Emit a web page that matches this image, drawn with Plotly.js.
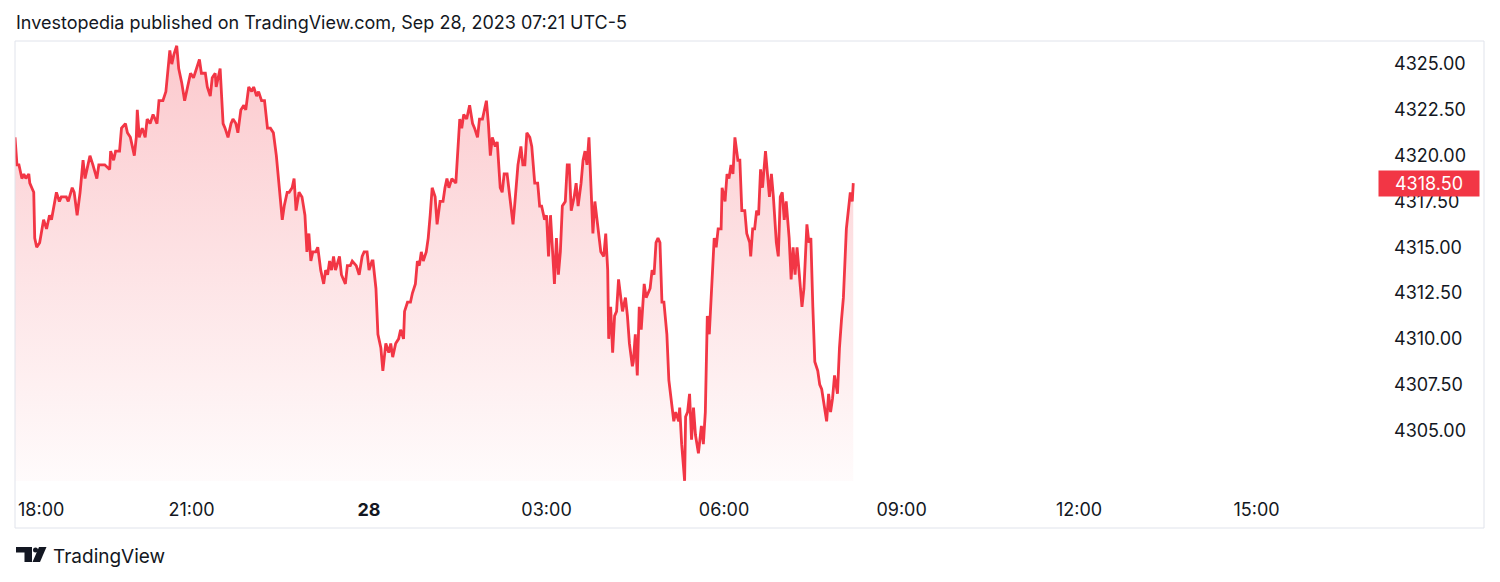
<!DOCTYPE html>
<html>
<head>
<meta charset="utf-8">
<script src="https://cdn.plot.ly/plotly-3.0.1.min.js"></script>
<style>
  html, body { margin: 0; padding: 0; background: #ffffff; }
  #chart { width: 1500px; height: 582px; }
</style>
</head>
<body>
<div id="chart"></div>
<script>
// ---- Data (ES futures, area chart) ----
const times = [
  '18:01','18:03','18:05','18:08','18:10','18:12','18:15','18:16','18:18','18:20',
  '18:21','18:23','18:26','18:28','18:30','18:33','18:36','18:38','18:41','18:43',
  '18:46','18:48','18:53','18:55','18:59','19:01','19:04','19:07','19:10','19:12',
  '19:14','19:17','19:20','19:24','19:26','19:32','19:37','19:38','19:41','19:43',
  '19:47','19:49','19:53','19:55','19:58','20:02','20:04','20:05','20:07','20:10',
  '20:13','20:15','20:18','20:21','20:23','20:25','20:27','20:31','20:34','20:36',
  '20:38','20:40','20:42','20:45','20:47','20:50','20:53','20:56','20:59','21:02',
  '21:05','21:08','21:10','21:14','21:16','21:19','21:21','21:24','21:25','21:29',
  '21:32','21:34','21:37','21:40','21:42','21:45','21:47','21:50','21:53','21:55',
  '21:58','22:01','22:03','22:06','22:08','22:11','22:14','22:17','22:20','22:23',
  '22:26','22:28','22:30','22:32','22:34','22:37','22:39','22:42','22:44','22:46',
  '22:49','22:52','22:55','22:57','22:59','23:01','23:03','23:06','23:08','23:11',
  '23:14','23:16','23:18','23:20','23:22','23:24','23:26','23:30','23:32','23:36',
  '23:38','23:41','23:43','23:47','23:50','23:53','23:55','23:58','00:00','00:03',
  '00:04','00:07','00:09','00:12','00:14','00:17','00:20','00:22','00:24','00:27',
  '00:30','00:32','00:35','00:36','00:39','00:42','00:44','00:47','00:49','00:51',
  '00:53','00:55','00:58','01:00','01:02','01:04','01:07','01:09','01:12','01:15',
  '01:17','01:19','01:21','01:24','01:28','01:31','01:32','01:34','01:36','01:39',
  '01:42','01:45','01:47','01:50','01:52','01:55','01:59','02:01','02:03','02:05',
  '02:08','02:10','02:13','02:15','02:17','02:20','02:23','02:26','02:28','02:31',
  '02:34','02:36','02:38','02:40','02:43','02:45','02:48','02:51','02:53','02:55',
  '02:58','03:00','03:02','03:04','03:08','03:10','03:12','03:14','03:16','03:19',
  '03:21','03:23','03:25','03:28','03:30','03:32','03:35','03:37','03:39','03:41',
  '03:43','03:45','03:47','03:49','03:51','03:53','03:55','03:58','04:00','04:02',
  '04:03','04:05','04:07','04:09','04:11','04:13','04:15','04:17','04:20','04:22',
  '04:24','04:27','04:28','04:30','04:32','04:34','04:36','04:39','04:41','04:45',
  '04:47','04:49','04:51','04:53','04:55','04:57','04:59','05:02','05:04','05:07',
  '05:09','05:11','05:14','05:15','05:17','05:20','05:21','05:23','05:25','05:27',
  '05:29','05:31','05:34','05:37','05:39','05:41','05:43','05:45','05:48','05:50',
  '05:52','05:54','05:57','05:58','06:01','06:03','06:05','06:07','06:09','06:11',
  '06:14','06:16','06:18','06:21','06:23','06:26','06:27','06:29','06:31','06:33',
  '06:35','06:37','06:39','06:42','06:44','06:46','06:48','06:50','06:53','06:55',
  '06:57','06:59','07:01','07:03','07:06','07:08','07:10','07:12','07:14','07:16',
  '07:19','07:21','07:24','07:26','07:28','07:30','07:32','07:35','07:37','07:39',
  '07:42','07:44','07:46','07:48','07:50','07:52','07:55','07:57','07:59','08:01',
  '08:04','08:06','08:08','08:10','08:11'
];
const prices = [
  4321.0,4319.5,4319.5,4318.75,4319.0,4318.75,4319.0,4318.5,4318.25,4318.0,
  4315.5,4315.0,4315.25,4316.0,4316.5,4316.0,4316.75,4316.5,4317.5,4318.0,
  4317.5,4317.75,4317.75,4317.5,4318.25,4318.0,4316.75,4318.0,4319.75,4318.75,
  4319.25,4320.0,4319.5,4318.75,4319.5,4319.5,4319.25,4320.25,4319.75,4320.25,
  4320.25,4321.5,4321.75,4321.25,4321.0,4320.0,4321.0,4322.5,4321.0,4321.5,
  4321.0,4322.0,4321.75,4322.25,4322.0,4321.75,4323.0,4323.0,4323.5,4324.75,
  4325.75,4325.0,4325.5,4326.0,4324.75,4324.0,4323.0,4323.75,4324.5,4324.25,
  4324.75,4325.25,4324.5,4324.5,4323.75,4323.25,4324.25,4324.5,4323.75,4324.75,
  4321.75,4321.5,4321.0,4321.75,4322.0,4321.75,4321.25,4322.5,4322.75,4322.5,
  4323.75,4323.5,4323.75,4323.25,4323.5,4323.0,4323.0,4321.5,4321.5,4321.25,
  4320.0,4318.75,4317.5,4316.5,4317.25,4318.0,4318.0,4318.25,4318.75,4317.0,
  4318.0,4317.75,4316.75,4314.75,4315.75,4314.25,4314.75,4314.75,4315.0,4313.75,
  4313.0,4313.75,4313.5,4314.25,4313.75,4314.5,4313.75,4314.5,4313.5,4313.0,
  4314.0,4314.0,4314.25,4314.0,4313.5,4314.5,4314.75,4314.75,4313.75,4314.25,
  4314.25,4312.75,4310.25,4309.5,4308.25,4309.75,4309.25,4309.75,4309.0,4309.75,
  4310.0,4310.5,4310.0,4311.5,4312.0,4312.0,4312.5,4313.0,4314.25,4314.0,
  4314.75,4314.25,4314.75,4315.5,4316.75,4318.25,4317.75,4316.25,4317.5,4317.5,
  4318.25,4318.75,4318.25,4318.75,4318.5,4320.75,4322.0,4321.5,4322.25,4322.0,
  4322.75,4321.75,4321.5,4321.0,4322.0,4322.0,4323.0,4321.75,4320.0,4321.0,
  4320.5,4320.75,4318.25,4318.0,4319.0,4319.0,4317.75,4316.25,4317.5,4319.5,
  4320.5,4319.5,4319.5,4321.25,4321.0,4320.5,4318.5,4318.5,4317.25,4317.25,
  4316.5,4316.75,4314.5,4316.75,4313.0,4315.5,4313.5,4314.75,4317.25,4317.5,
  4319.5,4319.5,4317.0,4317.75,4318.5,4317.25,4318.5,4319.75,4320.25,4319.5,
  4321.0,4318.75,4315.75,4317.5,4316.5,4315.5,4314.75,4314.5,4315.75,4313.75,
  4310.0,4311.75,4309.25,4311.25,4311.5,4313.25,4312.25,4311.5,4312.25,4311.25,
  4309.75,4308.5,4308.75,4310.25,4308.0,4311.75,4310.5,4313.0,4312.25,4312.75,
  4313.75,4313.5,4315.25,4315.5,4315.25,4312.0,4312.0,4310.25,4307.75,4306.5,
  4305.5,4306.0,4305.5,4306.25,4304.25,4302.25,4305.75,4306.0,4307.0,4304.5,
  4306.25,4304.75,4303.75,4305.25,4304.25,4306.0,4311.25,4310.25,4313.0,4315.5,
  4315.0,4316.0,4316.0,4318.25,4317.5,4319.0,4318.75,4319.5,4319.0,4321.0,
  4319.75,4319.75,4317.0,4317.0,4315.75,4315.25,4314.5,4316.0,4316.0,4317.0,
  4316.75,4319.25,4318.25,4320.25,4319.0,4317.75,4319.0,4317.75,4315.25,4314.5,
  4317.75,4318.0,4316.5,4317.5,4315.5,4313.25,4315.0,4313.5,4315.0,4313.5,
  4311.75,4312.75,4316.25,4315.25,4315.5,4311.75,4308.75,4308.25,4307.5,4307.25,
  4306.25,4305.5,4307.0,4306.0,4306.75,4308.0,4307.0,4309.5,4311.0,4312.25,
  4316.0,4317.0,4318.0,4317.5,4318.5
];
const xTickVals = ['2023-09-27 21:00','2023-09-28 00:00','2023-09-28 03:00','2023-09-28 06:00',
                   '2023-09-28 09:00','2023-09-28 12:00','2023-09-28 15:00'];
const xTickText = ['21:00','<b>28</b>','03:00','06:00','09:00','12:00','15:00'];
const firstTickText = '18:00';   // edge tick (18:00 sits on the left edge, label pushed inside)
const yTickVals = [4305, 4307.5, 4310, 4312.5, 4315, 4317.5, 4320, 4322.5, 4325];
const xRange = ['2023-09-27 18:01', '2023-09-28 16:57'];
const yRange = [4302.24, 4326.26];
const titleText = 'Investopedia published on TradingView.com, Sep 28, 2023 07:21 UTC-5';

// ---- Build timestamps (roll to next day after midnight) ----
let day = 27, prevMin = -1;
const xs = times.map(t => {
  const [h, m] = t.split(':').map(Number);
  const mins = h * 60 + m;
  if (mins < prevMin) day++;
  prevMin = mins;
  return '2023-09-' + day + ' ' + t;
});

const RED = '#f23645';
const TXT = '#131722';
const FONT = 'Inter, "Noto Sans", Roboto, sans-serif';

// layout geometry in pixels
const W = 1500, H = 582;
const M = {l: 15, r: 128, t: 41, b: 101};
const PW = W - M.l - M.r, PH = H - M.t - M.b;
const px = x => (x - M.l) / PW;
const py = y => (H - M.b - y) / PH;
const pathFrom = pts => 'M' + pts.map(p => px(p[0]).toFixed(5) + ',' + py(p[1]).toFixed(5)).join(' L') + ' Z';

const trace = {
  type: 'scatter',
  mode: 'lines',
  x: xs,
  y: prices,
  line: {color: RED, width: 2.8, shape: 'linear'},
  fill: 'tozeroy',
  fillgradient: {
    type: 'vertical',
    start: yRange[0],
    stop: yRange[1],
    colorscale: [[0, 'rgba(242,54,69,0.02)'], [1, 'rgba(242,54,69,0.27)']]
  },
  hoverinfo: 'skip'
};

const lastPrice = prices[prices.length - 1];

const layout = {
  width: W, height: H,
  margin: M,
  paper_bgcolor: '#ffffff',
  plot_bgcolor: '#ffffff',
  showlegend: false,
  font: {family: FONT, color: TXT},
  title: {
    text: titleText,
    x: 16 / W, xanchor: 'left', xref: 'container',
    y: 1 - 23 / H, yanchor: 'middle', yref: 'container',
    font: {family: FONT, size: 18, color: TXT}
  },
  xaxis: {
    type: 'date',
    range: xRange,
    tickmode: 'array',
    tickvals: xTickVals,
    ticktext: xTickText,
    showgrid: false, zeroline: false, showline: false,
    ticks: '',
    ticklabelstandoff: 16,
    tickfont: {family: FONT, size: 18, color: TXT},
    fixedrange: true
  },
  yaxis: {
    side: 'right',
    range: yRange,
    tickmode: 'array',
    tickvals: yTickVals,
    ticktext: yTickVals.map(v => v.toFixed(2)),
    showgrid: false, zeroline: false, showline: false,
    ticks: '',
    ticklabelstandoff: 21,
    tickfont: {family: FONT, size: 18, color: TXT},
    fixedrange: true
  },
  shapes: [
    // outer frame of the chart widget
    {type: 'rect', xref: 'paper', yref: 'paper',
     x0: px(15), x1: px(1484), y0: py(528), y1: py(41),
     line: {color: '#e0e3eb', width: 1}, fillcolor: 'rgba(0,0,0,0)', layer: 'above'},
    // TradingView logo
    {type: 'path', xref: 'paper', yref: 'paper', line: {width: 0}, fillcolor: TXT,
     path: pathFrom([[16,547],[32,547],[32,562],[24.5,562],[24.5,552.5],[16,552.5]])},
    {type: 'circle', xref: 'paper', yref: 'paper', line: {width: 0}, fillcolor: TXT,
     x0: px(33), x1: px(38), y0: py(552.5), y1: py(547.5)},
    {type: 'path', xref: 'paper', yref: 'paper', line: {width: 0}, fillcolor: TXT,
     path: pathFrom([[39,547],[46.5,547],[40,562],[32.5,562]])}
  ],
  annotations: [
    {x: px(16), xref: 'paper', y: py(509), yref: 'paper',
     text: firstTickText, showarrow: false, xanchor: 'left', yanchor: 'middle',
     font: {family: FONT, size: 18, color: TXT}},
    {x: px(1378), xref: 'paper', y: lastPrice, yref: 'y',
     text: lastPrice.toFixed(2), showarrow: false, xanchor: 'left', yanchor: 'middle',
     width: 96, height: 21, align: 'center', bgcolor: RED, borderpad: 2,
     font: {family: FONT, size: 18, color: '#ffffff'}},
    {x: px(51), xref: 'paper', y: py(556), yref: 'paper',
     text: 'TradingView', showarrow: false, xanchor: 'left', yanchor: 'middle',
     font: {family: FONT, size: 19, color: TXT}}
  ]
};

Plotly.newPlot('chart', [trace], layout, {displayModeBar: false, staticPlot: true});
</script>
</body>
</html>
